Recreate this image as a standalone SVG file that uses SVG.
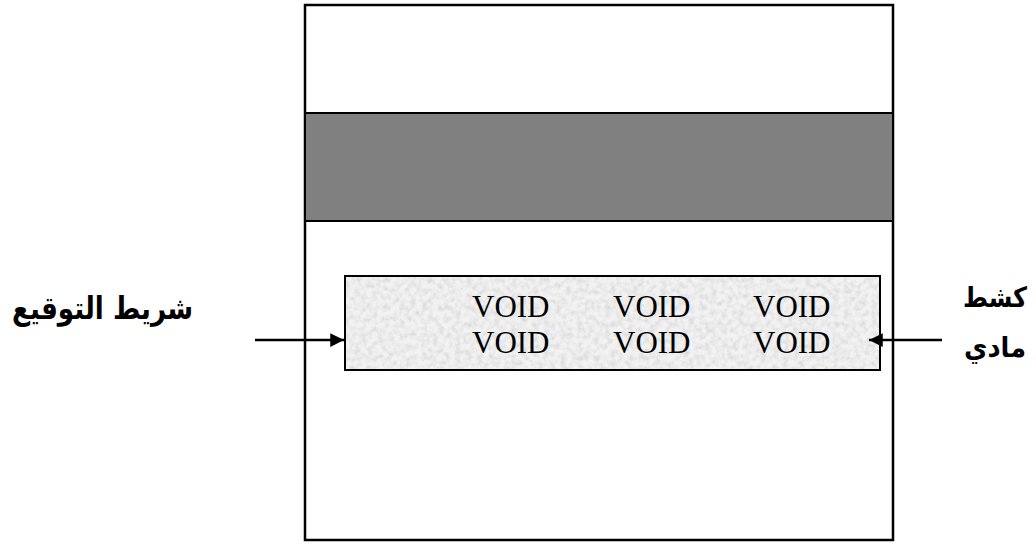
<svg xmlns="http://www.w3.org/2000/svg" width="1036" height="544" viewBox="0 0 1036 544">
<style>
.frame{fill:none;stroke:#000;stroke-width:2.5}
.void{font-family:"Liberation Serif","Times New Roman",serif;font-size:31px;fill:#000}
.ar{font-family:"DejaVu Sans",sans-serif;font-weight:bold;font-size:31px;fill:#000}
.ar-r{font-family:"DejaVu Sans",sans-serif;font-weight:bold;font-size:28px;fill:#000}
.conn{stroke:#000;stroke-width:2.5;fill:none}
</style>
<defs>
<filter id="grain" x="0" y="0" width="100%" height="100%">
<feTurbulence type="fractalNoise" baseFrequency="0.18" numOctaves="3" seed="5" result="n"/>
<feColorMatrix in="n" type="matrix" values="0 0 0 0 0.7  0 0 0 0 0.7  0 0 0 0 0.7  0 0 0 -2 1.25" result="g"/>
<feComposite in="g" in2="SourceGraphic" operator="in" result="gc"/>
<feMerge><feMergeNode in="SourceGraphic"/><feMergeNode in="gc"/></feMerge>
</filter>
<marker id="ah" viewBox="0 0 10 10" refX="10" refY="5" markerWidth="6" markerHeight="5.5" orient="auto" markerUnits="strokeWidth">
<path d="M0,0 L10,5 L0,10 z" fill="#000"/>
</marker>
</defs>
<rect width="1036" height="544" fill="#fff"/>
<g id="card">
<rect class="frame" x="305" y="5" width="588" height="535" fill="#fff"/>
</g>
<g id="magstripe">
<rect x="305" y="113" width="588" height="108" fill="#808080" stroke="#000" stroke-width="2"/>
</g>
<g id="signature-strip">
<rect x="345" y="276" width="535" height="94" fill="#f2f2f2" filter="url(#grain)"/>
<rect x="345" y="276" width="535" height="94" fill="none" stroke="#000" stroke-width="2"/>
<text class="void" x="472" y="317">VOID</text>
<text class="void" x="613" y="317">VOID</text>
<text class="void" x="753" y="317">VOID</text>
<text class="void" x="472" y="353">VOID</text>
<text class="void" x="613" y="353">VOID</text>
<text class="void" x="753" y="353">VOID</text>
</g>
<g id="label-left">
<text class="ar" x="12" y="319" textLength="181" lengthAdjust="spacingAndGlyphs">شريط التوقيع</text>
</g>
<g id="label-right">
<text class="ar-r" x="963" y="307" textLength="64" lengthAdjust="spacingAndGlyphs">كشط</text>
<text class="ar-r" x="964" y="357" textLength="62" lengthAdjust="spacingAndGlyphs">مادي</text>
</g>
<g id="connectors">
<line class="conn" x1="255" y1="340" x2="344" y2="340" marker-end="url(#ah)"/>
<line class="conn" x1="942" y1="340" x2="869" y2="340" marker-end="url(#ah)"/>
</g>
</svg>
